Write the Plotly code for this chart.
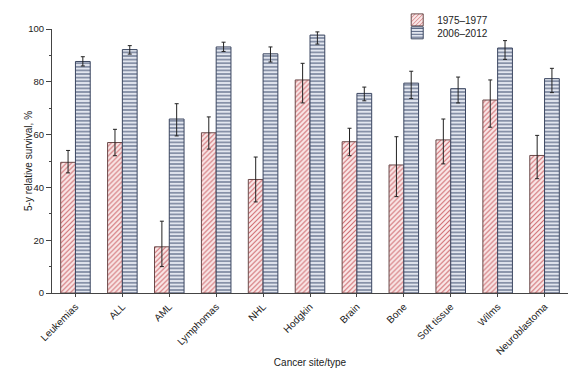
import plotly.graph_objects as go

categories = ["Leukemias", "ALL", "AML", "Lymphomas", "NHL", "Hodgkin",
              "Brain", "Bone", "Soft tissue", "Wilms", "Neuroblastoma"]
s1975 = [49.5, 57.0, 17.5, 60.7, 43.0, 80.7, 57.3, 48.5, 58.0, 73.1, 52.1]
s1975_hi = [54.0, 62.0, 27.2, 66.7, 51.5, 87.0, 62.4, 59.2, 65.9, 80.7, 59.7]
s1975_lo = [45.5, 52.0, 10.0, 54.5, 34.5, 72.0, 52.0, 36.5, 48.9, 62.8, 43.3]
s2006 = [87.7, 92.2, 65.9, 93.2, 90.6, 97.7, 75.6, 79.5, 77.4, 92.8, 81.2]
s2006_hi = [89.5, 93.7, 71.7, 95.0, 93.2, 98.9, 78.0, 84.0, 81.8, 95.6, 85.1]
s2006_lo = [86.0, 90.5, 59.5, 91.5, 87.5, 94.3, 72.8, 73.7, 72.0, 88.5, 75.9]

def err(v, hi, lo):
    return dict(type="data", symmetric=False,
                array=[h - x for h, x in zip(hi, v)],
                arrayminus=[x - l for x, l in zip(v, lo)],
                color="#222222", thickness=1, width=2)

fig = go.Figure()
fig.add_trace(go.Bar(
    name="1975–1977", x=categories, y=s1975, legend="legend", showlegend=True,
    error_y=err(s1975, s1975_hi, s1975_lo),
    marker=dict(color="#f7e3e3",
                line=dict(color="#6b4a4a", width=1),
                pattern=dict(shape="/", fgcolor="#cf6a6f", bgcolor="#fae9e9",
                             size=3.5, solidity=0.3, fillmode="replace")),
))
fig.add_trace(go.Bar(
    name="2006–2012", x=categories, y=s2006, legend="legend2", showlegend=True,
    error_y=err(s2006, s2006_hi, s2006_lo),
    marker=dict(color="#dfe3ec",
                line=dict(color="#3b4660", width=1),
                pattern=dict(shape="-", fgcolor="#4a5878", bgcolor="#e2e6ef",
                             size=3.6, solidity=0.3, fillmode="replace")),
))

leg_common = dict(x=0.669, xanchor="left", yanchor="middle", yref="container",
                  bgcolor="rgba(0,0,0,0)", font=dict(size=10, color="#222"),
                  itemwidth=30, visible=True)

fig.update_layout(
    width=579, height=360, showlegend=True,
    margin=dict(l=44, r=19, t=21, b=75, autoexpand=False),
    paper_bgcolor="white", plot_bgcolor="white",
    barmode="group", bargap=0.37, bargroupgap=0.0,
    font=dict(family="Liberation Sans, Arial, sans-serif", size=10, color="#222"),
    legend=dict(y=0.967, **leg_common),
    legend2=dict(y=0.931, **leg_common),
    xaxis=dict(title=dict(text="Cancer site/type", font=dict(size=10)),
               tickangle=-45, showline=True, linecolor="#444", linewidth=1,
               ticks="outside", ticklen=3, tickcolor="#444",
               tickfont=dict(size=10), automargin=False),
    yaxis=dict(range=[0, 100], dtick=20, showline=True, linecolor="#444",
               linewidth=1, ticks="outside", ticklen=5, tickcolor="#444",
               showgrid=False, zeroline=False, tickfont=dict(size=9.5),
               automargin=False,
               minor=dict(dtick=10, ticks="outside", ticklen=2, tickcolor="#444")),
    annotations=[dict(text="5-y relative survival, %", xref="paper", yref="paper",
                      x=0, y=0.5, xanchor="center", yanchor="middle",
                      xshift=-24, textangle=-90, showarrow=False,
                      font=dict(size=10, color="#222"))],
)

fig.write_html("out.html")
